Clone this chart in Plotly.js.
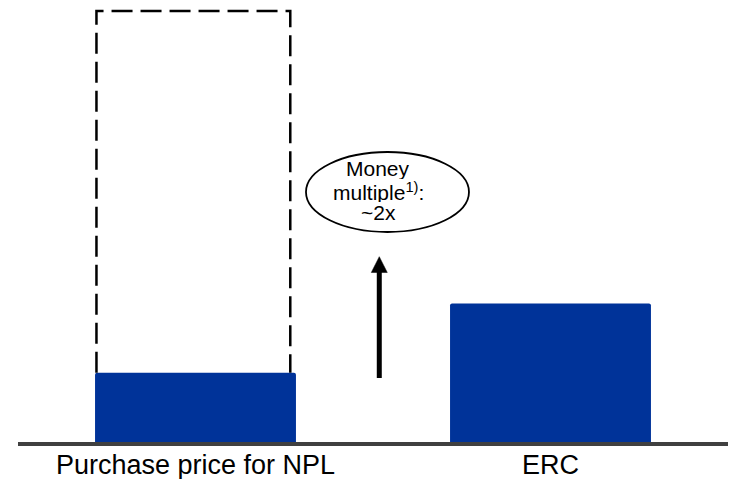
<!DOCTYPE html>
<html>
<head>
<meta charset="utf-8">
<script src="https://cdn.plot.ly/plotly-3.0.1.min.js"></script>
<style>html,body{margin:0;padding:0;background:#fff;}#chart{width:733px;height:479px;}</style>
</head>
<body>
<div id="chart"></div>
<script>
// ---- data ----
const categories = ["Purchase price for NPL", "ERC"];
const values = [1.0, 2.0];            // purchase price vs. expected remaining collections
const faceValue = 6.23;               // dashed box: nominal value of the NPL portfolio
const multipleLabel = ["Money", "multiple<sup>1)</sup>:", "~2x"];

const xPos = categories.map((c, i) => i);
const barWidth = 0.566;
const barColor = "#003399";
const fontFam = "Liberation Sans, Arial, sans-serif";

const trace = {
  type: "bar",
  x: xPos,
  y: values,
  width: barWidth,
  marker: { color: barColor, cornerradius: 2, line: { width: 0 } },
  hoverinfo: "skip"
};

// dashed outline around purchase price bar (left, top, right)
const dl = xPos[0] - barWidth / 2 + 0.004;
const dr = xPos[0] + barWidth / 2 - 0.016;
const shapes = [
  {
    type: "path", xref: "x", yref: "y",
    path: `M ${dl},${values[0]} L ${dl},${faceValue} L ${dr},${faceValue} L ${dr},${values[0]}`,
    line: { color: "#000", width: 2.5, dash: "21px,8px" }
  },
  // arrow shaft
  { type: "line", xref: "x", yref: "y", x0: 0.5177, x1: 0.5177, y0: 0.925, y1: 2.46,
    line: { color: "#000", width: 5 } },
  // arrow head
  { type: "path", xref: "x", yref: "y",
    path: "M 0.4952,2.449 L 0.5402,2.449 L 0.5177,2.678 Z",
    fillcolor: "#000", line: { color: "#000", width: 0.5 } },
  // ellipse
  { type: "circle", xref: "x", yref: "y", x0: 0.3112, x1: 0.7704, y0: 3.035, y1: 4.191,
    line: { color: "#000", width: 1.8 }, fillcolor: "rgba(0,0,0,0)" }
];

const lineY = [3.95, 3.627, 3.31];
const annotations = multipleLabel.map((t, i) => ({
  x: 0.5141, y: lineY[i], xref: "x", yref: "y",
  text: t, showarrow: false, xanchor: "center", yanchor: "middle",
  height: 21, valign: "middle", borderpad: 0,
  font: { family: fontFam, size: 21, color: "#000" }
}));

const layout = {
  width: 733, height: 479,
  margin: { l: 18, r: 5, t: 5, b: 37 },
  paper_bgcolor: "#fff", plot_bgcolor: "#fff",
  showlegend: false,
  xaxis: {
    range: [-0.5, 1.5],
    tickmode: "array", tickvals: xPos, ticktext: categories,
    showline: true, linecolor: "#404040", linewidth: 4,
    showgrid: false, zeroline: false, ticks: "",
    ticklabelstandoff: -4,
    tickfont: { family: fontFam, size: 27, color: "#000" }
  },
  yaxis: {
    range: [0, 6.315], visible: false, showgrid: false, zeroline: false
  },
  shapes: shapes,
  annotations: annotations
};

Plotly.newPlot("chart", [trace], layout, { staticPlot: true, displayModeBar: false });
</script>
</body>
</html>
